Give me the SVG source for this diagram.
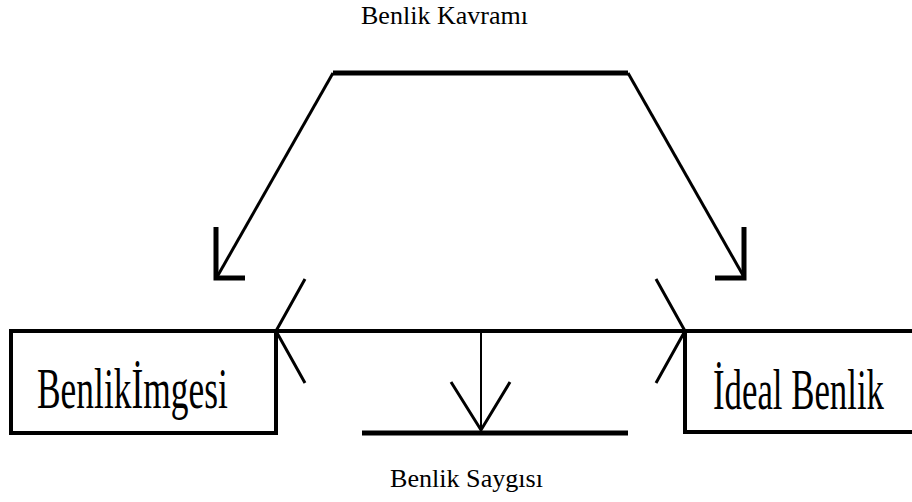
<svg xmlns="http://www.w3.org/2000/svg" width="912" height="502" viewBox="0 0 912 502">
<style>
.lbl{font-family:"Liberation Serif","Times New Roman",serif;font-size:25px;fill:#000}
.big{font-family:"Liberation Serif","Times New Roman",serif;font-size:58px;fill:#000}
.ln{stroke:#000;fill:none;stroke-linecap:butt}
</style>
<rect width="912" height="502" fill="#fff"/>
<g id="benlik-kavrami">
<text class="lbl" x="361" y="24" textLength="167" lengthAdjust="spacingAndGlyphs">Benlik Kavramı</text>
<line class="ln" x1="333" y1="73" x2="628" y2="73" stroke-width="5"/>
</g>
<g id="benlik-imgesi">
<path class="ln" d="M11 331 H276 V433 H11 Z" stroke-width="4"/>
<text class="big" transform="translate(37,408) scale(0.6,1)" x="0" y="0" textLength="318" lengthAdjust="spacingAndGlyphs">Benlikİmgesi</text>
</g>
<g id="ideal-benlik">
<path class="ln" d="M685 331 H914 M685 331 V432 H914" stroke-width="4"/>
<text class="big" transform="translate(713,409) scale(0.6,1)" x="0" y="0" textLength="285" lengthAdjust="spacingAndGlyphs">İdeal Benlik</text>
</g>
<g id="benlik-saygisi">
<line class="ln" x1="362" y1="433" x2="628" y2="433" stroke-width="5"/>
<text class="lbl" x="390" y="487" textLength="153" lengthAdjust="spacingAndGlyphs">Benlik Saygısı</text>
</g>
<g id="connectors">
<line class="ln" x1="276" y1="331" x2="685" y2="331" stroke-width="4"/>
<line class="ln" x1="333" y1="73" x2="217" y2="277" stroke-width="3"/>
<path class="ln" d="M216 227 V278 H245" stroke-width="5"/>
<line class="ln" x1="628" y1="73" x2="744" y2="277" stroke-width="3"/>
<path class="ln" d="M744 227 V278 H715" stroke-width="5"/>
<path class="ln" d="M305 279 L276 331 L305 383" stroke-width="3"/>
<path class="ln" d="M656 279 L685 331 L656 383" stroke-width="3"/>
<line class="ln" x1="481" y1="333" x2="481" y2="430" stroke-width="2"/>
<path class="ln" d="M451 382 L481 430 L510 382" stroke-width="3"/>
</g>
</svg>
